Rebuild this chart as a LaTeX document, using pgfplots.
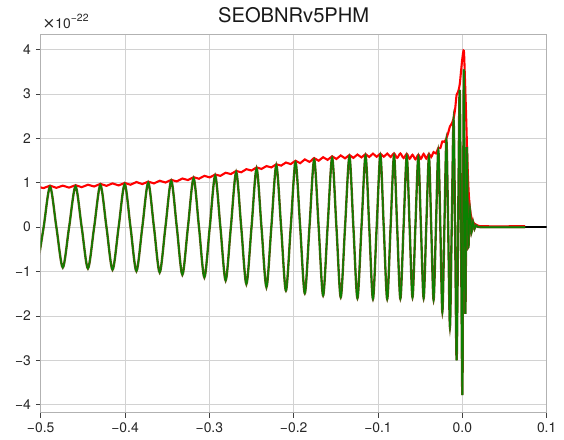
\documentclass[border=0pt]{standalone}
\usepackage{pgfplots}
\pgfplotsset{compat=1.18}
\usepackage{pgfplotstable}
\usepackage{fontspec}
\setmainfont{TeX Gyre Heros}
\newfontfamily\symfont{DejaVu Sans}
\definecolor{wgreen}{RGB}{10,130,0}
\definecolor{wolive}{RGB}{95,85,20}
\definecolor{wred}{RGB}{255,0,0}

\pgfplotstableread{
t h
-0.5040 -0.90
-0.4965 0
-0.4889 0.91
-0.4814 0
-0.4738 -0.91
-0.4663 0
-0.4587 0.92
-0.4514 0
-0.4440 -0.93
-0.4366 0
-0.4292 0.95
-0.4220 0
-0.4148 -0.96
-0.4076 0
-0.4004 0.97
-0.3935 0
-0.3865 -0.99
-0.3795 0
-0.3725 1.00
-0.3657 0
-0.3589 -1.02
-0.3521 0
-0.3452 1.04
-0.3386 0
-0.3320 -1.07
-0.3254 0
-0.3187 1.10
-0.3123 0
-0.3059 -1.13
-0.2995 0
-0.2931 1.16
-0.2869 0
-0.2807 -1.20
-0.2745 0
-0.2682 1.24
-0.2622 0
-0.2561 -1.28
-0.2500 0
-0.2440 1.32
-0.2382 0
-0.2323 -1.35
-0.2265 0
-0.2206 1.39
-0.2149 0
-0.2092 -1.43
-0.2035 0
-0.1978 1.46
-0.1923 0
-0.1868 -1.49
-0.1813 0
-0.1757 1.52
-0.1704 0
-0.1651 -1.54
-0.1598 0
-0.1544 1.56
-0.1493 0
-0.1442 -1.58
-0.1391 0
-0.1339 1.59
-0.1292 0
-0.1244 -1.60
-0.1196 0
-0.1148 1.61
-0.1104 0
-0.1060 -1.62
-0.1016 0
-0.0972 1.62
-0.0932 0
-0.0891 -1.62
-0.0851 0
-0.0810 1.61
-0.0773 0
-0.0735 -1.61
-0.0697 0
-0.0659 1.60
-0.0625 0
-0.0591 -1.58
-0.0557 0
-0.0522 1.58
-0.0491 0
-0.0459 -1.60
-0.0428 0
-0.0396 1.59
-0.0369 0
-0.0341 -1.64
-0.0313 0
-0.0285 1.73
-0.0261 0
-0.0237 -1.91
-0.0213 0
-0.0189 1.96
-0.0168 0
-0.0147 -2.25
-0.0126 0
-0.0104 2.41
-0.0086 0
-0.0068 -3.00
-0.0050 0
-0.0032 3.09
-0.0016 0
0.0000 -3.78
0.0009 0.0
0.0018 3.55
0.0027 0.6
0.0036 -1.95
0.0045 0.2
0.0054 1.80
0.0063 0.5
0.0072 -0.45
0.0081 0.1
0.0090 0.40
0.0099 0.12
0.0108 -0.12
0.0117 0.03
0.0126 0.12
0.0135 0.03
0.0144 -0.04
0.0153 0.01
0.0162 0.04
0.0180 0.01
0.0250 0.0
0.0744 0.0
}\hdata

\pgfplotstableread{
t a
-0.5040 0.925
-0.4965 0.88
-0.4889 0.935
-0.4814 0.885
-0.4738 0.935
-0.4663 0.89
-0.4587 0.945
-0.4514 0.90
-0.4440 0.955
-0.4366 0.915
-0.4292 0.975
-0.4220 0.93
-0.4148 0.985
-0.4076 0.94
-0.4004 0.995
-0.3935 0.955
-0.3865 1.015
-0.3795 0.97
-0.3725 1.025
-0.3657 0.985
-0.3589 1.045
-0.3521 1.005
-0.3452 1.065
-0.3386 1.03
-0.3320 1.095
-0.3254 1.06
-0.3187 1.125
-0.3123 1.09
-0.3059 1.155
-0.2995 1.12
-0.2931 1.185
-0.2869 1.155
-0.2807 1.225
-0.2745 1.195
-0.2682 1.265
-0.2622 1.235
-0.2561 1.305
-0.2500 1.275
-0.2440 1.345
-0.2382 1.31
-0.2323 1.375
-0.2265 1.345
-0.2206 1.415
-0.2149 1.385
-0.2092 1.455
-0.2035 1.42
-0.1978 1.495
-0.1923 1.44
-0.1868 1.525
-0.1813 1.47
-0.1757 1.555
-0.1704 1.495
-0.1651 1.575
-0.1598 1.515
-0.1544 1.595
-0.1493 1.535
-0.1442 1.615
-0.1391 1.55
-0.1339 1.625
-0.1292 1.56
-0.1244 1.635
-0.1196 1.57
-0.1148 1.645
-0.1104 1.58
-0.1060 1.655
-0.1016 1.585
-0.0972 1.655
-0.0932 1.585
-0.0891 1.655
-0.0851 1.58
-0.0810 1.66
-0.0773 1.56
-0.0735 1.66
-0.0697 1.555
-0.0659 1.65
-0.0625 1.54
-0.0591 1.63
-0.0557 1.53
-0.0522 1.63
-0.0491 1.54
-0.0459 1.65
-0.0428 1.545
-0.0396 1.65
-0.0369 1.58
-0.0341 1.69
-0.0313 1.66
-0.0285 1.78
-0.0261 1.78
-0.0237 1.93
-0.0213 1.92
-0.0189 2.00
-0.0168 2.12
-0.0147 2.27
-0.0126 2.33
-0.0104 2.45
-0.0086 2.65
-0.0068 2.98
-0.0050 3.05
-0.0032 3.20
-0.0016 3.50
0.0000 3.80
0.0018 3.97
0.0030 3.40
0.0045 2.50
0.0060 1.50
0.0075 0.80
0.0090 0.42
0.0110 0.20
0.0140 0.08
0.0180 0.04
0.0250 0.02
0.0744 0.02
}\adata

\begin{document}
\begin{tikzpicture}
\useasboundingbox (0,0) rectangle (406.08pt,316.08pt);
\begin{axis}[
  at={(29.3pt,18.9pt)}, anchor=south west,
  scale only axis, width=364.3pt, height=272.4pt,
  xmin=-0.5, xmax=0.1, ymin=-4.18, ymax=4.34,
  xtick={-0.5,-0.4,-0.3,-0.2,-0.1,0,0.1},
  xticklabels={−0.5,−0.4,−0.3,−0.2,−0.1,0.0,0.1},
  ytick={-4,-3,-2,-1,0,1,2,3,4},
  yticklabels={−4,−3,−2,−1,0,1,2,3,4},
  tick pos=left, tick align=outside, major tick length=3.5pt,
  tick style={black!75, line width=0.6pt},
  grid=major, major grid style={gray!35, line width=0.6pt},
  axis line style={gray!60, line width=0.8pt},
  tick label style={font=\fontsize{10}{12}\selectfont, text=black!85},
]
\addplot[black, line width=1.2pt] coordinates {(0.02,0) (0.1,0)};
\addplot[wred, line width=1.5pt, smooth] table[x=t, y=a] {\adata};
\addplot[wolive, line width=1.7pt, smooth] table[x=t, y=h] {\hdata};
\addplot[wgreen, line width=0.9pt, smooth] table[x=t, y=h] {\hdata};
\end{axis}
\node[anchor=base, font=\fontsize{14.5}{17}\selectfont, text=black!90] at (211.45pt,300.2pt) {SEOBNRv5PHM};
\node[anchor=base west, inner sep=0pt, font=\fontsize{10}{12}\selectfont, text=black!85] at (30.5pt,295.7pt) {{\symfont\fontsize{11}{12}\selectfont ×}10\raisebox{0.9ex}{\fontsize{7.5}{8}\selectfont −22}};
\end{tikzpicture}
\end{document}
